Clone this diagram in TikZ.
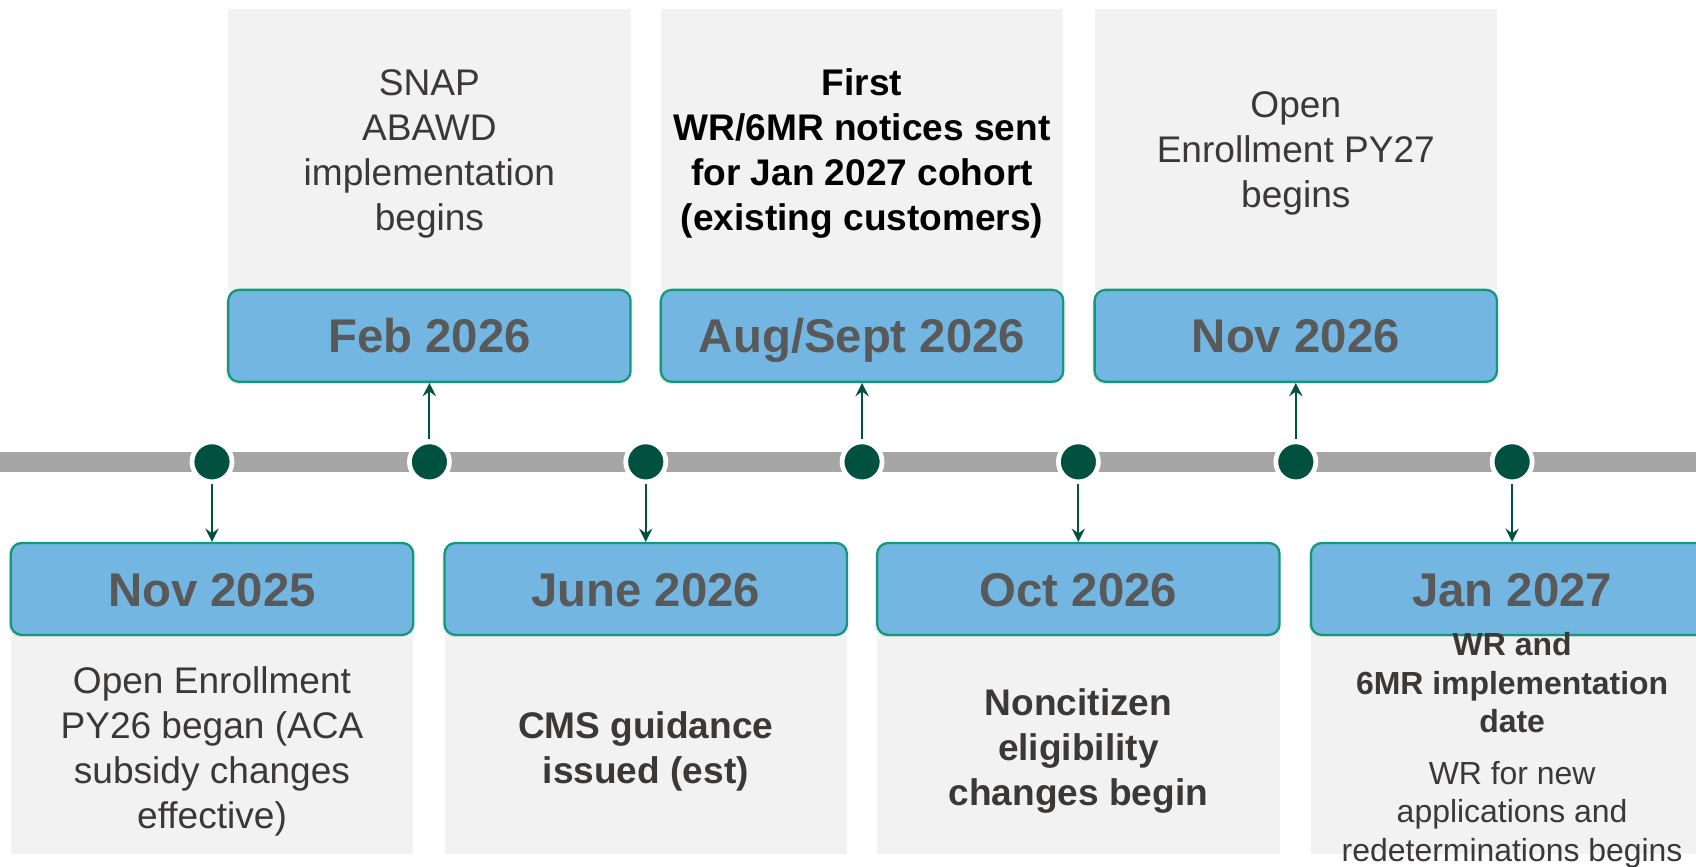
\documentclass[tikz,border=0pt]{standalone}
\usepackage{fontspec}
\setmainfont{Liberation Sans}
\usetikzlibrary{arrows.meta,shadows}

\definecolor{lineGray}{HTML}{A6A6A6}
\definecolor{dotGreen}{HTML}{00513F}
\definecolor{boxBlue}{HTML}{72B6E1}
\definecolor{boxEdge}{HTML}{12987A}
\definecolor{noteGray}{HTML}{F2F2F2}
\definecolor{dateText}{HTML}{595959}
\definecolor{noteText}{HTML}{3B3838}

\newcommand{\datefont}{\fontsize{24.9}{30}\selectfont\bfseries}
\newcommand{\notefont}{\fontsize{19.5}{23.7}\selectfont}
\newcommand{\smallnotefont}{\fontsize{16.8}{20.2}\selectfont}

\tikzset{
    datebox/.style={draw=boxEdge, line width=1.2pt, fill=boxBlue, rounded corners=0.2cm,
        minimum width=7.44cm, minimum height=1.7cm, text height=18pt, text depth=0pt,
        text=dateText, font=\datefont,
        drop shadow={opacity=0.15, shadow xshift=-0.04cm, shadow yshift=-0.04cm}},
    notebox/.style={fill=noteGray, minimum width=7.44cm, inner sep=0pt},
    notetext/.style={align=center, text=noteText, font=\notefont},
    tick/.style={circle, fill=dotGreen, draw=white, line width=2.5pt, minimum size=0.74cm, inner sep=0pt},
    arr/.style={-{Stealth[length=7pt, width=7pt, inset=2.5pt]}, draw=dotGreen, line width=1.1pt},
}

\begin{document}
\begin{tikzpicture}
    \useasboundingbox (0, 0) rectangle (31.36, 16.02);
    \clip (0, 0) rectangle (31.36, 16.02);

    % timeline
    \coordinate (lineStart) at (0, 7.48);
    \coordinate (lineEnd) at (31.36, 7.48);
    \draw[lineGray, line width=10.8pt] (lineStart) -- (lineEnd);

    \node[tick] (d1) at (3.92, 7.48) {};
    \node[tick] (d2) at (7.94, 7.48) {};
    \node[tick] (d3) at (11.94, 7.48) {};
    \node[tick] (d4) at (15.94, 7.48) {};
    \node[tick] (d5) at (19.94, 7.48) {};
    \node[tick] (d6) at (23.96, 7.48) {};
    \node[tick] (d7) at (27.96, 7.48) {};

    % above the line
    \node[notebox, minimum height=5.2cm] (febNote) at (7.94, 13.26) {};
    \node[notetext] (febText) at (7.94, 13.18) {SNAP\\ABAWD\\implementation\\begins};
    \node[datebox] (feb) at (7.94, 9.81) {Feb 2026};
    \draw[arr] (d2) -- (feb);

    \node[notebox, minimum height=5.2cm] (augNote) at (15.94, 13.26) {};
    \node[notetext, text=black, font=\notefont\bfseries] (augText) at (15.94, 13.18)
        {First\\WR/6MR notices sent\\for Jan 2027 cohort\\(existing customers)};
    \node[datebox] (aug) at (15.94, 9.81) {Aug/Sept 2026};
    \draw[arr] (d4) -- (aug);

    \node[notebox, minimum height=5.2cm] (novNote) at (23.96, 13.26) {};
    \node[notetext] (novText) at (23.96, 13.18) {Open\\Enrollment PY27\\begins};
    \node[datebox] (nov) at (23.96, 9.81) {Nov 2026};
    \draw[arr] (d6) -- (nov);

    % below the line
    \node[notebox, minimum height=4.06cm] (oeNote) at (3.92, 2.25) {};
    \node[notetext] (oeText) at (3.92, 2.13) {Open Enrollment\\PY26 began (ACA\\subsidy changes\\effective)};
    \node[datebox] (oe) at (3.92, 5.13) {Nov 2025};
    \draw[arr] (d1) -- (oe);

    \node[notebox, minimum height=4.06cm] (juneNote) at (11.94, 2.25) {};
    \node[notetext, font=\notefont\bfseries] (juneText) at (11.94, 2.13) {CMS guidance\\issued (est)};
    \node[datebox] (june) at (11.94, 5.13) {June 2026};
    \draw[arr] (d3) -- (june);

    \node[notebox, minimum height=4.06cm] (octNote) at (19.94, 2.25) {};
    \node[notetext, font=\notefont\bfseries] (octText) at (19.94, 2.13) {Noncitizen\\eligibility\\changes begin};
    \node[datebox] (oct) at (19.94, 5.13) {Oct 2026};
    \draw[arr] (d5) -- (oct);

    \node[notebox, minimum height=4.06cm] (janNote) at (27.96, 2.25) {};
    \node[datebox] (jan) at (27.96, 5.13) {Jan 2027};
    \node[notetext, font=\smallnotefont] (janText) at (27.96, 2.15)
        {{\bfseries WR and}\\{\bfseries 6MR implementation}\\{\bfseries date}\\[7pt]WR for new\\applications and\\redeterminations begins};
    \draw[arr] (d7) -- (jan);
\end{tikzpicture}
\end{document}
